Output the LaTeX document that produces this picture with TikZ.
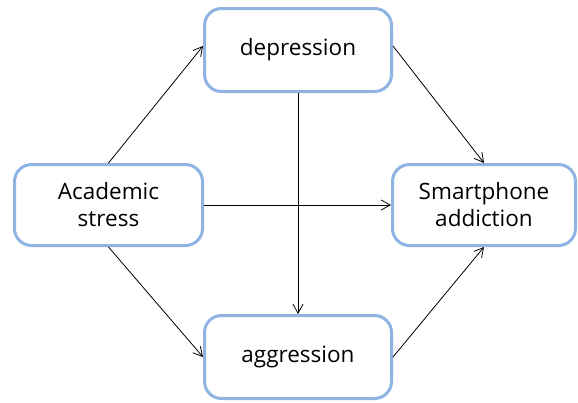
\documentclass[tikz,border=0pt]{standalone}
\usepackage{fontspec}
\setmainfont{Open Sans}
\usetikzlibrary{arrows.meta}
\definecolor{boxblue}{RGB}{142,180,227}
\begin{document}
\begin{tikzpicture}[x=1pt,y=-1pt,
  box/.style={draw=boxblue,line width=3pt,rounded corners=17pt,fill=white,
    align=center,font=\fontsize{22.5}{27}\selectfont,inner sep=0pt},
  conn/.style={line width=0.8pt,-{Straight Barb[length=9pt,width=10pt]}}]
\useasboundingbox (0,0) rectangle (578,402);
\node[box,minimum width=187pt,minimum height=83pt] (dep) at (298,50) {depression};
\node[box,minimum width=188pt,minimum height=81pt] (acad) at (108.5,205) {Academic\\stress};
\node[box,minimum width=183pt,minimum height=81pt] (smart) at (484,205) {Smartphone\\addiction};
\node[box,minimum width=187pt,minimum height=83pt] (agg) at (298,357) {aggression};
\draw[conn] (acad.north) -- ([yshift=4pt]dep.west);
\draw[conn] ([yshift=4pt]dep.east) -- (smart.north);
\draw[conn] (acad.east) -- (smart.west);
\draw[conn] (dep.south) -- (agg.north);
\draw[conn] (acad.south) -- (agg.west);
\draw[conn] (agg.east) -- (smart.south);
\end{tikzpicture}
\end{document}
